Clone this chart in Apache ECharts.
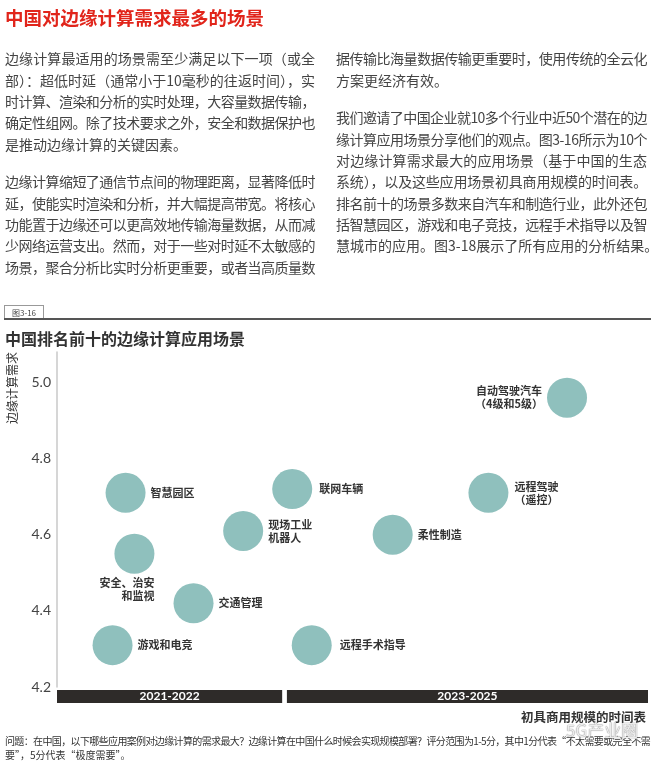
<!DOCTYPE html>
<html>
<head>
<meta charset="utf-8">
<script src="https://cdn.jsdelivr.net/npm/echarts/dist/echarts.min.js"></script>
<style>
html,body{margin:0;padding:0;background:#fff;}
#page{position:relative;width:655px;height:761px;overflow:hidden;font-family:"Noto Sans CJK SC","Noto Sans",sans-serif;}
#chart{position:absolute;left:0;top:0;width:655px;height:761px;}
.txt{position:absolute;z-index:2;pointer-events:none;}
.h1{left:5px;top:5px;font-size:18.5px;line-height:24px;font-weight:bold;color:#e1251b;white-space:nowrap;}
.col{font-size:14px;line-height:21.3px;color:#444;}
.ln{white-space:nowrap;height:21.3px;}
.j{text-align:justify;text-align-last:justify;}
.fig{left:4px;top:305px;width:38px;height:13px;border:1px solid #999;border-bottom:none;font-size:8px;line-height:13px;text-align:center;color:#444;}
.rule{left:4px;top:318px;width:647px;height:1.5px;background:#555;}
.note{left:5px;top:734px;width:645px;font-size:10px;line-height:14px;color:#333;}
.note .ln{height:14px;}
.wm{left:566px;top:719px;z-index:3;font-size:17px;line-height:22px;color:rgba(255,255,255,0.85);
    text-shadow:0 0 1px #888,0 0 1px #888;white-space:nowrap;}
</style>
</head>
<body>
<div id="page">
  <div id="chart"></div>
  <div class="txt h1">中国对边缘计算需求最多的场景</div>

  <div class="txt col" style="left:5px;top:48.4px;width:310px;">
    <div class="ln j"><span>边缘计算最适用的场景需至少满足以下一项（或全</span></div>
    <div class="ln j"><span>部）：超低时延（通常小于10毫秒的往返时间），实</span></div>
    <div class="ln j"><span>时计算、渲染和分析的实时处理，大容量数据传输，</span></div>
    <div class="ln j"><span>确定性组网。除了技术要求之外，安全和数据保护也</span></div>
    <div class="ln"><span>是推动边缘计算的关键因素。</span></div>
  </div>

  <div class="txt col" style="left:5px;top:171.4px;width:310px;">
    <div class="ln j"><span>边缘计算缩短了通信节点间的物理距离，显著降低时</span></div>
    <div class="ln j"><span>延，使能实时渲染和分析，并大幅提高带宽。将核心</span></div>
    <div class="ln j"><span>功能置于边缘还可以更高效地传输海量数据，从而减</span></div>
    <div class="ln j"><span>少网络运营支出。然而，对于一些对时延不太敏感的</span></div>
    <div class="ln j"><span>场景，聚合分析比实时分析更重要，或者当高质量数</span></div>
  </div>

  <div class="txt col" style="left:336px;top:48.4px;width:311px;">
    <div class="ln j"><span>据传输比海量数据传输更重要时，使用传统的全云化</span></div>
    <div class="ln"><span>方案更经济有效。</span></div>
  </div>

  <div class="txt col" style="left:336px;top:107.4px;width:311px;">
    <div class="ln j"><span>我们邀请了中国企业就10多个行业中近50个潜在的边</span></div>
    <div class="ln j"><span>缘计算应用场景分享他们的观点。图3-16所示为10个</span></div>
    <div class="ln j"><span>对边缘计算需求最大的应用场景（基于中国的生态</span></div>
    <div class="ln j"><span>系统），以及这些应用场景初具商用规模的时间表。</span></div>
    <div class="ln j"><span>排名前十的场景多数来自汽车和制造行业，此外还包</span></div>
    <div class="ln j"><span>括智慧园区，游戏和电子竞技，远程手术指导以及智</span></div>
    <div class="ln"><span>慧城市的应用。图3-18展示了所有应用的分析结果。</span></div>
  </div>

  <div class="txt fig">图3-16</div>
  <div class="txt rule"></div>

  <div class="txt note">
    <div class="ln j"><span>问题：在中国，以下哪些应用案例对边缘计算的需求最大？边缘计算在中国什么时候会实现规模部署？评分范围为1-5分，其中1分代表“不太需要或完全不需</span></div>
    <div class="ln"><span>要”，5分代表“极度需要”。</span></div>
  </div>
  <div class="txt wm">5G产业圈</div>
</div>

<script>
// ---- data ----
const scenarios = ['智慧园区', '安全、治安\n和监视', '游戏和电竞', '交通管理', '现场工业\n机器人',
                   '联网车辆', '远程手术指导', '柔性制造', '远程驾驶\n（遥控）', '自动驾驶汽车\n（4级和5级）'];
const timeline  = [11.6, 13.1, 9.4, 23.1, 31.5, 39.8, 43.1, 56.8, 73.0, 86.3];
const demand    = [4.71, 4.55, 4.31, 4.42, 4.61, 4.72, 4.31, 4.60, 4.71, 4.96];
const periods     = ['2021-2022', '2023-2025'];
const periodStart = [0, 38.9];
const periodEnd   = [38.1, 100];
const yMin = 4.2, yMax = 5.08, yStep = 0.2;

// ---- label placement (style, separate from data) ----
const labelSpots = {
  '安全、治安\n和监视': {position: 'bottom', align: 'right', offset: [20, 0], distance: 3},
  '现场工业\n机器人': {position: 'right', align: 'left', distance: 5},
  '远程驾驶\n（遥控）': {position: 'right', align: 'center', distance: 28},
  '自动驾驶汽车\n（4级和5级）': {position: 'left', align: 'center', distance: 38},
  '远程手术指导': {position: 'right', distance: 8},
  '联网车辆': {position: 'right', distance: 7}
};

// fit justified HTML lines
document.querySelectorAll('.j').forEach(el => {
  const W = el.clientWidth;
  const s = el.firstElementChild;
  el.style.textAlignLast = 'left';
  el.style.textAlign = 'left';
  const w = s.getBoundingClientRect().width;
  el.style.textAlignLast = '';
  el.style.textAlign = '';
  if (w > W) {
    const n = s.textContent.length;
    s.style.letterSpacing = (-(w - W) / n - 0.02) + 'px';
  }
});

const font = '"Noto Sans CJK SC", "Noto Sans", sans-serif';
const chart = echarts.init(document.getElementById('chart'));

const scatterData = scenarios.map((name, i) => {
  const spot = labelSpots[name] || {position: 'right', distance: 5};
  return {name: name, value: [timeline[i], demand[i]], label: spot};
});

chart.setOption({
  animation: false,
  title: {
    text: '中国排名前十的边缘计算应用场景',
    left: 5, top: 329, padding: 0,
    textStyle: {fontSize: 16, fontWeight: 'bold', color: '#333', lineHeight: 20, fontFamily: font}
  },
  grid: [
    {left: 57, right: 7, top: 352, bottom: 74},
    {left: 57, right: 7, top: 690, height: 13}
  ],
  xAxis: [
    {type: 'value', min: 0, max: 100, show: false},
    {type: 'value', gridIndex: 1, min: 0, max: 100, show: false}
  ],
  yAxis: [
    {
      type: 'value', min: yMin, max: yMax, interval: yStep,
      axisLine: {show: true, lineStyle: {color: '#c8c8c8', width: 1.5}},
      axisTick: {show: false},
      splitLine: {show: false},
      axisLabel: {
        color: '#444', fontSize: 14, margin: 6, fontFamily: 'Lato, "Open Sans", sans-serif',
        formatter: v => (Math.abs(v / yStep - Math.round(v / yStep)) < 1e-6) ? v.toFixed(1) : ''
      }
    },
    {type: 'value', gridIndex: 1, min: 0, max: 1, show: false}
  ],
  series: [
    {
      type: 'scatter',
      data: scatterData,
      symbolSize: 40,
      itemStyle: {color: '#8fc0bd', opacity: 1},
      label: {
        show: true,
        formatter: p => p.name,
        color: '#333', fontSize: 11, fontWeight: 'bold', lineHeight: 13, fontFamily: font
      },
      emphasis: {disabled: true}
    },
    {
      type: 'custom',
      xAxisIndex: 1, yAxisIndex: 1,
      data: periods.map((p, i) => [periodStart[i], periodEnd[i], p]),
      encode: {x: [0, 1]},
      renderItem: (params, api) => {
        const p0 = api.coord([api.value(0), 1]);
        const p1 = api.coord([api.value(1), 0]);
        return {
          type: 'rect',
          shape: {x: p0[0], y: p0[1], width: p1[0] - p0[0], height: p1[1] - p0[1]},
          style: {fill: '#2e2b29'},
          textContent: {
            style: {text: periods[params.dataIndex], fill: '#fff',
                    font: 'bold 12px Lato, "Open Sans", sans-serif'}
          },
          textConfig: {position: 'inside'}
        };
      }
    }
  ],
  graphic: [
    {
      type: 'text', x: 12, y: 388, rotation: Math.PI / 2,
      style: {text: '边缘计算需求', align: 'center', verticalAlign: 'middle',
              font: '12px ' + font, fill: '#333'}
    },
    {
      type: 'text', x: 646, y: 717,
      style: {text: '初具商用规模的时间表', align: 'right', verticalAlign: 'middle',
              font: 'bold 12.5px ' + font, fill: '#333'}
    }
  ]
});
</script>
</body>
</html>
